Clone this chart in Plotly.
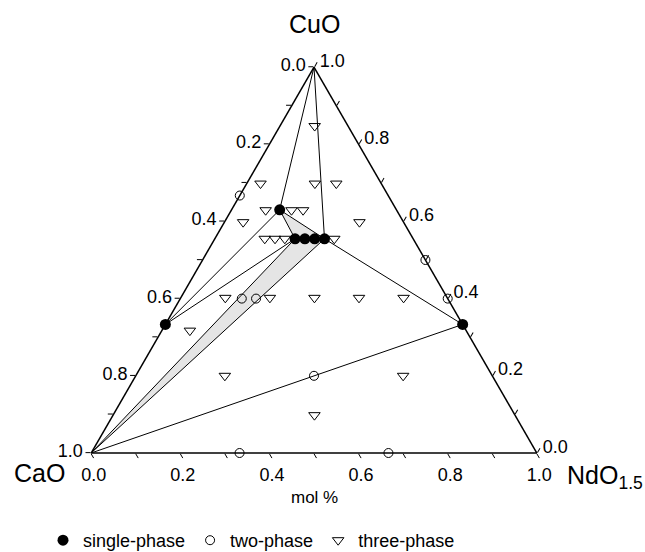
import plotly.graph_objects as go

# ---------------- data (a = CuO, c = NdO1.5, b = CaO = 1 - a - c) ----------------
single_cuo = [0.333, 0.333, 0.630, 0.555, 0.555, 0.555, 0.555]
single_ndo = [0.000, 0.667, 0.108, 0.180, 0.202, 0.224, 0.246]

two_cuo = [0.667, 0.667, 0.500, 0.400, 0.400, 0.400, 0.200, 0.000, 0.000]
two_ndo = [0.000, 0.333, 0.500, 0.600, 0.138, 0.170, 0.400, 0.333, 0.667]

three_cuo = [0.847, 0.698, 0.698, 0.698, 0.629, 0.629, 0.629, 0.598, 0.598,
             0.555, 0.555, 0.555, 0.555, 0.402, 0.402, 0.402, 0.402, 0.402,
             0.317, 0.200, 0.200, 0.098]
three_ndo = [0.078, 0.031, 0.153, 0.201, 0.077, 0.135, 0.161, 0.042, 0.303,
             0.112, 0.135, 0.157, 0.268, 0.100, 0.200, 0.300, 0.400, 0.500,
             0.063, 0.200, 0.600, 0.452]

# tie lines (pairs of compositions: CuO, NdO1.5)
corner_cuo = (1.0, 0.0)
corner_cao = (0.0, 0.0)
ca2cuo3 = (single_cuo[0], single_ndo[0])
nd2cuo4 = (single_cuo[1], single_ndo[1])
top_ss = (single_cuo[2], single_ndo[2])
row_left = (single_cuo[3], single_ndo[3])
row_right = (single_cuo[6], single_ndo[6])

tie_lines = [
    (corner_cuo, top_ss),
    (corner_cuo, row_right),
    (ca2cuo3, top_ss),
    (ca2cuo3, row_left),
    (row_right, nd2cuo4),
    (corner_cao, nd2cuo4),
]
region = [corner_cao, row_left, top_ss, row_right, corner_cao]

tick_vals = [0.0, 0.1, 0.2, 0.3, 0.4, 0.5, 0.6, 0.7, 0.8, 0.9, 1.0]
tick_text = ["1.0", "", "0.8", "", "0.6", "", "0.4", "", "0.2", "", "0.0"]

FONT = "Arial, Liberation Sans, sans-serif"
W, H = 645, 552


def cao(a_list, c_list):
    return [1 - a - c for a, c in zip(a_list, c_list)]


fig = go.Figure()

# single-phase (solid solution) region
ra = [p[0] for p in region]
rc = [p[1] for p in region]
fig.add_trace(go.Scatterternary(
    a=ra, b=cao(ra, rc), c=rc, mode="lines", fill="toself",
    fillcolor="rgba(0,0,0,0.10)",
    line=dict(color="black", width=1), showlegend=False, hoverinfo="skip"))

for p, q in tie_lines:
    la = [p[0], q[0]]
    lc = [p[1], q[1]]
    fig.add_trace(go.Scatterternary(
        a=la, b=cao(la, lc), c=lc, mode="lines",
        line=dict(color="black", width=1), showlegend=False, hoverinfo="skip"))

fig.add_trace(go.Scatterternary(
    a=single_cuo, b=cao(single_cuo, single_ndo), c=single_ndo, mode="markers",
    name="single-phase", cliponaxis=False,
    marker=dict(symbol="circle", size=11, color="black",
                line=dict(color="black", width=0))))
fig.add_trace(go.Scatterternary(
    a=two_cuo, b=cao(two_cuo, two_ndo), c=two_ndo, mode="markers",
    name="two-phase", cliponaxis=False,
    marker=dict(symbol="circle-open", size=9, color="black",
                line=dict(color="black", width=1))))
fig.add_trace(go.Scatterternary(
    a=three_cuo, b=cao(three_cuo, three_ndo), c=three_ndo, mode="markers",
    name="three-phase", cliponaxis=False,
    marker=dict(symbol="triangle-down-open", size=10, color="black",
                line=dict(color="black", width=1))))

axis_common = dict(
    tickmode="array", tickvals=tick_vals, ticktext=tick_text,
    ticks="outside", ticklen=5, tickwidth=1, tickcolor="black",
    showgrid=False, showline=True, linecolor="black", linewidth=1.5,
    tickfont=dict(family=FONT, size=18, color="black"),
    title=dict(text=""), min=0,
)

fig.update_layout(
    width=W, height=H,
    margin=dict(l=0, r=0, t=0, b=0, autoexpand=False),
    paper_bgcolor="white", plot_bgcolor="white",
    font=dict(family=FONT, color="black"),
    ternary=dict(
        sum=1, bgcolor="white",
        domain=dict(x=[(314 - 240) / W, (314 + 240) / W],
                    y=[1 - 453 / H, 1 - 67 / H]),
        aaxis=axis_common, baxis=axis_common, caxis=axis_common,
    ),
    showlegend=True,
    legend=dict(orientation="h", x=43 / W, xanchor="left", y=-7 / H,
                yanchor="bottom", font=dict(family=FONT, size=18, color="black"),
                itemsizing="trace", bgcolor="rgba(0,0,0,0)"),
    annotations=[
        dict(text="CuO", x=314 / W, y=1 - 24 / H, xref="paper", yref="paper",
             xanchor="center", yanchor="middle",
             showarrow=False, font=dict(family=FONT, size=25)),
        dict(text="CaO", x=39 / W, y=1 - 473 / H,
             xanchor="center", yanchor="middle",
             xref="paper", yref="paper", showarrow=False,
             font=dict(family=FONT, size=25)),
        dict(text="NdO<sub>1.5</sub>", x=565 / W, y=1 - 477 / H,
             xanchor="left", yanchor="middle",
             xref="paper", yref="paper", showarrow=False,
             font=dict(family=FONT, size=25)),
        dict(text="mol %", x=314 / W, y=1 - 497 / H, xref="paper",
             xanchor="center", yanchor="middle",
             yref="paper", showarrow=False, font=dict(family=FONT, size=17)),
    ],
)

fig.write_html("out.html")
